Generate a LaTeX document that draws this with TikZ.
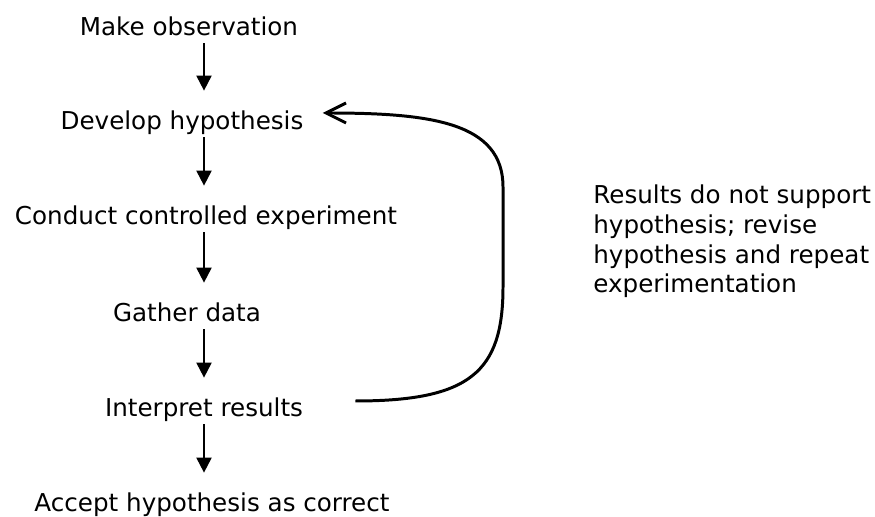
\documentclass[tikz,border=0pt]{standalone}
\usepackage{fontspec}
\setmainfont{DejaVu Sans}
\usetikzlibrary{arrows.meta}

\begin{document}
\begin{tikzpicture}[>={Triangle[length=0.3cm,width=0.3cm]},
  stage/.style={inner sep=0pt, anchor=base, text height=0.36cm, text depth=0.1cm, font=\fontsize{14}{17}\selectfont},
  flow/.style={->, line width=1.1pt, shorten <=0.04cm, shorten >=0.42cm},
  loopback/.style={-{Straight Barb[length=0.4cm,width=0.4cm]}, line width=1.7pt}]
  \useasboundingbox (0,0) rectangle (17.5,10.34);
  \coordinate (spine) at (4.08,0);
  \node[stage] (obs) at (3.78,9.62) {Make observation};
  \node[stage] (hyp) at (3.64,7.74) {Develop hypothesis};
  \node[stage] (exp) at (4.12,5.84) {Conduct controlled experiment};
  \node[stage] (data) at (3.74,3.90) {Gather data};
  \node[stage] (interp) at (4.08,2.00) {Interpret results};
  \node[stage] (accept) at (4.24,0.10) {Accept hypothesis as correct};
  \foreach \a/\b in {obs/hyp, hyp/exp, exp/data, data/interp, interp/accept}
    \draw[flow] (\a.south -| spine) -- (\b.north -| spine);
  \draw[loopback] ([shift={(1.04,0.19)}]interp.east) .. controls (9.4,2.32) and (10.06,2.9) .. (10.06,4.6)
    -- (10.06,6.6) .. controls (10.06,7.9) and (8.6,8.08) .. ([shift={(0.38,0.21)}]hyp.east);
  \node[anchor=base west, align=left, inner sep=0pt, font=\fontsize{14}{17}\selectfont] (note) at (11.86,4.48)
    {Results do not support\\hypothesis; revise\\hypothesis and repeat\\experimentation};
\end{tikzpicture}
\end{document}
